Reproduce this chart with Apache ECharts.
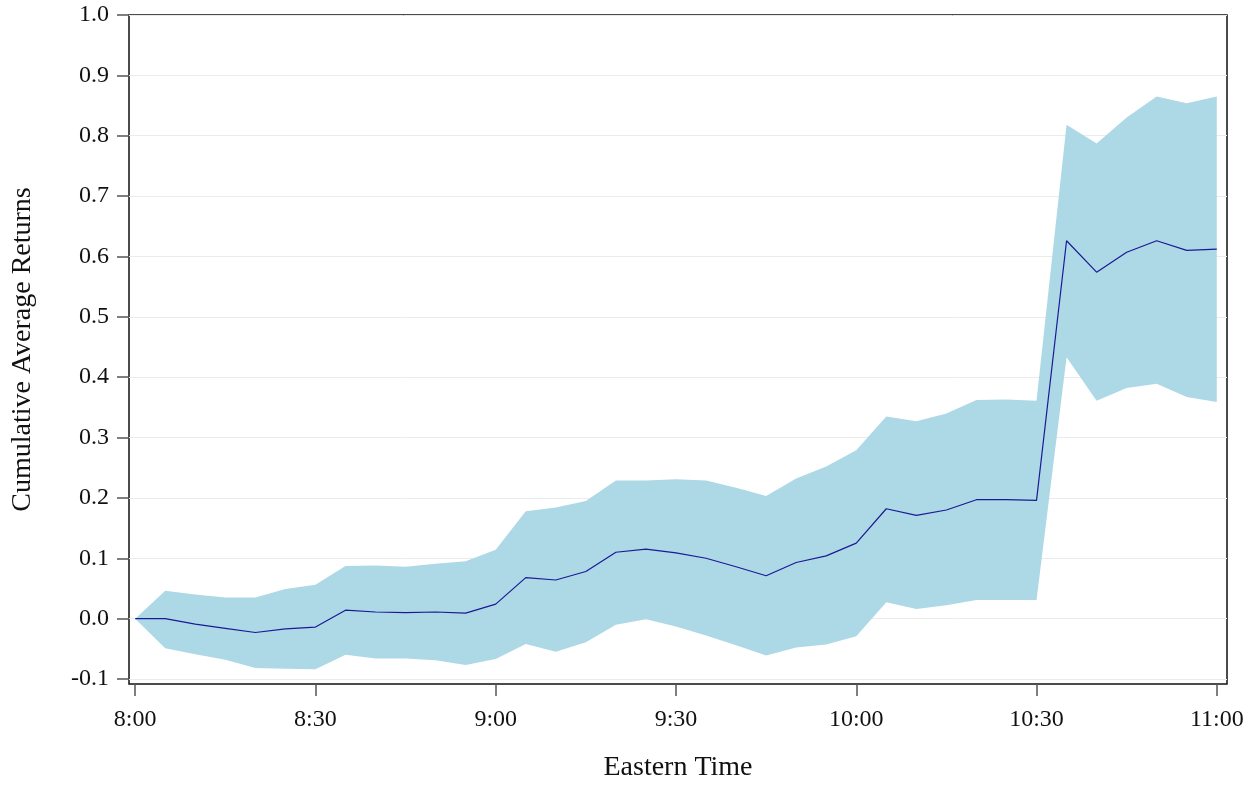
<!DOCTYPE html>
<html>
<head>
<meta charset="utf-8">
<script src="https://cdn.jsdelivr.net/npm/echarts@6/dist/echarts.min.js"></script>
<style>
html,body{margin:0;padding:0;background:#fff;}
#chart{width:1258px;height:788px;}
</style>
</head>
<body>
<div id="chart"></div>
<script>
// minutes after 8:00 (Eastern Time)
const minutes = [0,5,10,15,20,25,30,35,40,45,50,55,60,65,70,75,80,85,90,95,100,105,110,115,120,125,130,135,140,145,150,155,160,165,170,175,180];
const meanReturns = [0,0.000,-0.009,-0.016,-0.023,-0.017,-0.014,0.014,0.011,0.010,0.011,0.009,0.024,0.068,0.064,0.078,0.110,0.115,0.109,0.100,0.086,0.071,0.093,0.104,0.125,0.182,0.171,0.180,0.197,0.197,0.196,0.626,0.574,0.607,0.626,0.610,0.612];
const upperBand = [0,0.046,0.040,0.035,0.035,0.049,0.056,0.087,0.088,0.086,0.091,0.095,0.114,0.178,0.184,0.195,0.229,0.229,0.231,0.229,0.217,0.203,0.232,0.252,0.279,0.335,0.327,0.340,0.362,0.363,0.361,0.818,0.787,0.830,0.865,0.854,0.865];
const lowerBand = [0,-0.049,-0.059,-0.068,-0.082,-0.083,-0.084,-0.060,-0.066,-0.066,-0.069,-0.077,-0.067,-0.042,-0.055,-0.039,-0.010,-0.001,-0.013,-0.028,-0.044,-0.061,-0.048,-0.043,-0.029,0.027,0.016,0.022,0.031,0.031,0.031,0.433,0.361,0.382,0.389,0.367,0.359];
const xTickValues = [0,30,60,90,120,150,180];
const xTickLabels = ['8:00','8:30','9:00','9:30','10:00','10:30','11:00'];
const yTickValues = [-0.1,0,0.1,0.2,0.3,0.4,0.5,0.6,0.7,0.8,0.9,1.0];

const FONT = "'Liberation Serif','Times New Roman',serif";
const chart = echarts.init(document.getElementById('chart'), null, {renderer:'canvas'});

const bandData = minutes.map((m,i)=>[m, lowerBand[i], upperBand[i]]);
const meanData = minutes.map((m,i)=>[m, meanReturns[i]]);

function renderBand(params, api){
  if (params.dataIndex !== 0) return null;
  const top = [], bottom = [];
  for (let i = 0; i < bandData.length; i++) {
    top.push(api.coord([bandData[i][0], bandData[i][2]]));
    bottom.push(api.coord([bandData[i][0], bandData[i][1]]));
  }
  const pts = top.concat(bottom.reverse());
  return {type:'polygon', shape:{points:pts}, style:{fill:'#add8e6', stroke:null}};
}

chart.setOption({
  animation:false,
  backgroundColor:'#fff',
  grid:{left:129,right:31,top:15,bottom:104,show:true,borderColor:'#111',borderWidth:1.5,backgroundColor:'transparent'},
  xAxis:{
    type:'value',min:-1.03,max:181.7,
    name:'Eastern Time',nameLocation:'middle',nameGap:70,
    nameTextStyle:{fontFamily:FONT,fontSize:28,color:'#111'},
    axisLine:{show:false,onZero:false},
    axisTick:{show:true,length:12,inside:false,customValues:xTickValues,lineStyle:{color:'#555',width:1.5}},
    axisLabel:{customValues:xTickValues,margin:24,fontFamily:FONT,fontSize:24,color:'#111',
      formatter:function(v){const i=xTickValues.indexOf(v);return i>=0?xTickLabels[i]:'';}},
    splitLine:{show:false}
  },
  yAxis:{
    type:'value',min:-0.1083,max:1.0,
    name:'Cumulative Average Returns',nameLocation:'middle',nameGap:92,
    nameTextStyle:{fontFamily:FONT,fontSize:28,color:'#111'},
    axisLine:{show:false,onZero:false},
    axisTick:{show:true,length:12,customValues:yTickValues,lineStyle:{color:'#555',width:1.5}},
    axisLabel:{customValues:yTickValues,margin:20,fontFamily:FONT,fontSize:24,color:'#111',
      formatter:function(v){return (Math.round(v*10)/10).toFixed(1);}},
    splitLine:{show:true,lineStyle:{color:'#ebebeb',width:1}}
  },
  series:[
    {type:'custom',data:bandData,renderItem:renderBand,encode:{x:0,y:[1,2]},silent:true,z:1,clip:true},
    {type:'line',data:meanData,symbol:'none',lineStyle:{color:'#1a1a96',width:1.2},z:3}
  ]
});
</script>
</body>
</html>
